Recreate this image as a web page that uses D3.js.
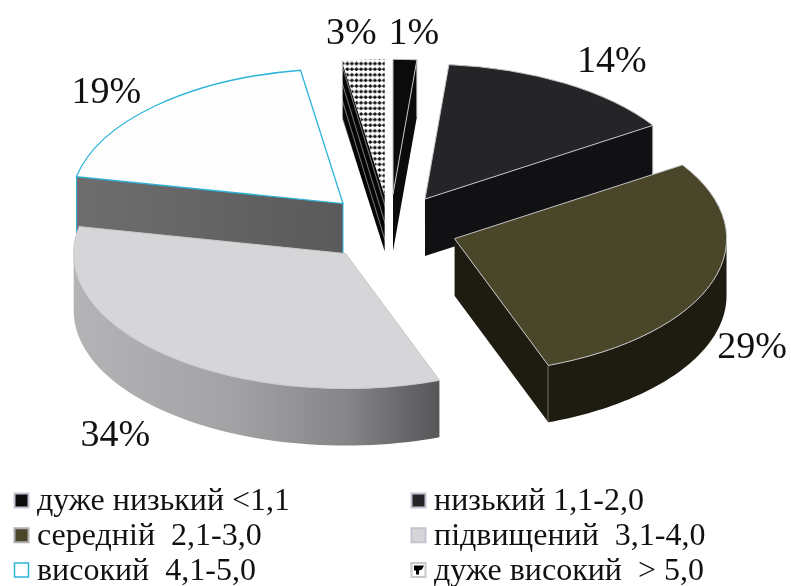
<!DOCTYPE html>
<html><head><meta charset="utf-8">
<script src="https://cdn.jsdelivr.net/npm/d3@7"></script>
<style>html,body{margin:0;padding:0;background:#fff}svg{display:block;filter:blur(0.35px)}</style>
</head><body><svg id="c" width="791" height="586"></svg>
<script>
// ---- data
const categories = ["дуже низький <1,1","низький 1,1-2,0","середній  2,1-3,0","підвищений  3,1-4,0","високий  4,1-5,0","дуже високий  > 5,0"];
const shareValues = [1.4,14.4,28.6,33.8,19.3,2.5];
const shareLabels = ["1%","14%","29%","34%","19%","3%"];
const topColours  = ["#0b0b0c","#252427","#4a462a","#d6d6d8","#fefefe","#fff"];
const edgeColours = ["#c4c4c8","#c4c4c8","#c4c4c8","#c8c8cc","#2cb4d8","#e8e8e8"];
const cutColours  = ["#0b0b0b","#111113","#1e1c10","#777","url(#wallGrad)","url(#stripes)"];
const rimColours  = ["#0b0b0b","#111113","#1e1c10","url(#rimGrad)","#666","#111"];
const labelNudge  = [[9,-15],[47,-11],[39.5,77],[-53,90],[-48.5,-3],[-12,-16]];
const legendOrder = [[0,0],[1,0],[0,1],[1,1],[0,2],[1,2]];

// ---- layout
const cx=390, cy=228, rx=272, ry=135, depth=57, explode=0.25;
const fontStyle="font-family:'Liberation Serif';fill:#111;white-space:pre";
const svg=d3.select("#c"), defs=svg.append("defs");

const grad=(id,stops,x1,x2)=>{const g=defs.append("linearGradient").attr("id",id).attr("gradientUnits","userSpaceOnUse")
  .attr("x1",x1).attr("x2",x2).attr("y1",0).attr("y2",0);
  stops.forEach(([o,c])=>g.append("stop").attr("offset",o).attr("stop-color",c));};
grad("rimGrad",[[0,"#b4b4b6"],[.45,"#a2a2a4"],[.75,"#858587"],[1,"#565658"]],74,440);
grad("wallGrad",[[0,"#6e6e6e"],[1,"#5a5a5a"]],77,343);

const dia=defs.append("pattern").attr("id","diamonds").attr("patternUnits","userSpaceOnUse").attr("width",4.6).attr("height",5.6);
dia.append("rect").attr("width",4.6).attr("height",5.6).attr("fill","#fff");
dia.append("path").attr("d",d3.line()([[2.3,0],[4.6,2],[2.3,4],[0,2]])+"Z").attr("fill","#111");
const stp=defs.append("pattern").attr("id","stripes").attr("patternUnits","userSpaceOnUse").attr("width",20).attr("height",5).attr("patternTransform","rotate(73 343 60)");
stp.append("rect").attr("width",20).attr("height",5).attr("fill","#050505");
stp.append("rect").attr("y",2).attr("width",20).attr("height",.7).attr("fill","#aaa");

const pie=d3.pie().sort(null).startAngle(0).endAngle(2*Math.PI);
const arcs=pie(shareValues);
const unitArc=d3.arc().innerRadius(0).outerRadius(1);
const line=d3.line();
const mid=d=>(d.startAngle+d.endAngle)/2;
const centre=d=>[cx+explode*rx*Math.sin(mid(d)), cy-explode*ry*Math.cos(mid(d))];
const rim=(c,a)=>[c[0]+rx*Math.sin(a), c[1]-ry*Math.cos(a)];
const down=p=>[p[0],p[1]+depth];

// painter's order: back slices first
const order=[5,0,1,4,2,3];
order.forEach(i=>{
  const d=arcs[i], c=centre(d), g=svg.append("g");
  const cut=a=>{const r=rim(c,a);
    g.append("path").attr("d",line([c,r,down(r),down(c)])+"Z").attr("fill",cutColours[i]);
    g.append("path").attr("d",line([r,down(r)])).attr("fill","none").attr("stroke",edgeColours[i]).attr("stroke-width",1);
    if(i===4) g.append("path").attr("d",line([c,down(c)])).attr("stroke",edgeColours[i]).attr("fill","none");
  };
  if(d.endAngle<Math.PI) cut(d.endAngle);
  if(d.startAngle>Math.PI) cut(d.startAngle);
  const a0=Math.max(d.startAngle,Math.PI/2), a1=Math.min(d.endAngle,3*Math.PI/2);
  if(a1>a0){
    const pts=d3.range(0,61).map(k=>rim(c,a0+(a1-a0)*k/60));
    g.append("path").attr("d",line(pts.concat(pts.slice().reverse().map(down)))+"Z").attr("fill",rimColours[i]);
  }
  g.append("path").attr("d",unitArc(d))
    .attr("transform",`translate(${c[0]},${c[1]}) scale(${rx},${ry})`)
    .attr("fill",topColours[i]).attr("stroke",edgeColours[i]).attr("stroke-width",i===4?1.3:1)
    .attr("vector-effect","non-scaling-stroke");
  if(i===5){ // patterned top, filled in screen space so the diamonds keep their shape
    const pts=d3.range(0,13).map(k=>rim(c,d.startAngle+(d.endAngle-d.startAngle)*k/12));
    g.append("path").attr("d",line([c].concat(pts))+"Z").attr("fill","url(#diamonds)");
  }
});

// percentage labels
arcs.forEach((d,i)=>{const c=centre(d),r=rim(c,mid(d));
  svg.append("text").attr("style",fontStyle).attr("x",r[0]+labelNudge[i][0]).attr("y",r[1]+labelNudge[i][1])
    .attr("text-anchor","middle").attr("font-size",38).text(shareLabels[i]);});

// legend
const colX=d3.scalePoint().domain([0,1]).range([14,411]);
const rowY=d3.scalePoint().domain([0,1,2]).range([510,579.5]);
const swFill=["#0b0b0c","#252427","#4a462a","#d6d6d8","#fff","#fff"];
const swEdge=["#c4c4d0","#c4c4d0","#b0b0b0","#c4c4d0","#2cb4d8","#c8c8c8"];
categories.forEach((t,i)=>{
  const [cc,rr]=legendOrder[i], x=colX(cc), y=rowY(rr);
  svg.append("rect").attr("x",x+.5).attr("y",y-16.5).attr("width",14).attr("height",14)
    .attr("fill",swFill[i]).attr("stroke",swEdge[i]).attr("stroke-width",i===4?1.5:2);
  if(i===5) svg.append("path").attr("d",line([[x+3,y-14],[x+13,y-14],[x+11,y-10],[x+8,y-9],[x+8,y-5],[x+5,y-5],[x+5,y-9],[x+3,y-9]])+"Z").attr("fill","#000");
  svg.append("text").attr("style",fontStyle).attr("x",x+23).attr("y",y).attr("font-size",32).text(t);
});
</script></body></html>
